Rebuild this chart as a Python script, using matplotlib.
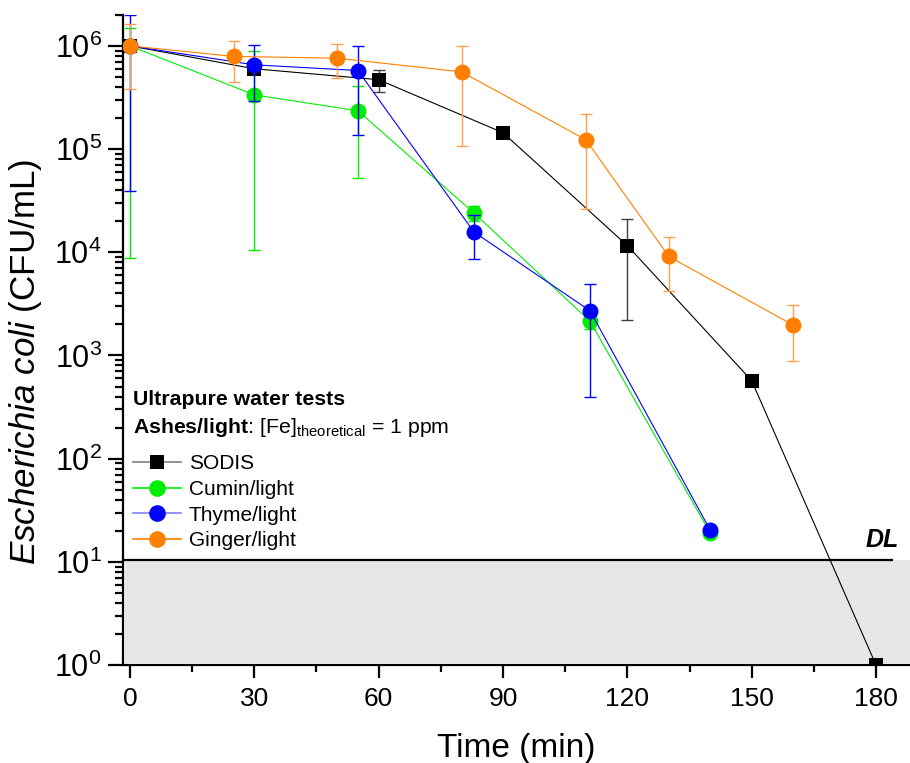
import numpy as np
import matplotlib
matplotlib.use("Agg")
import matplotlib.pyplot as plt
from matplotlib.lines import Line2D
from matplotlib.ticker import MultipleLocator

plt.rcParams['font.family'] = ['Liberation Sans', 'DejaVu Sans']
plt.rcParams['mathtext.fontset'] = 'custom'
plt.rcParams['mathtext.rm'] = 'Liberation Sans'
plt.rcParams['mathtext.it'] = 'Liberation Sans:italic'
plt.rcParams['mathtext.bf'] = 'Liberation Sans:bold'

# data (CFU/mL), error bars as lower/upper values
time_sodis = [0, 30, 60, 90, 120, 150, 180]
cfu_sodis = [1.0e6, 6.0e5, 4.7e5, 1.44e5, 1.16e4, 570, 1.0]
lo_sodis = [1.0e6, 5.5e5, 3.6e5, 1.44e5, 2.2e3, 570, 1.0]
hi_sodis = [1.0e6, 6.5e5, 5.85e5, 1.44e5, 2.1e4, 570, 1.0]

time_cumin = [0, 30, 55, 83, 111, 140]
cfu_cumin = [1.0e6, 3.35e5, 2.35e5, 2.4e4, 2.15e3, 19]
lo_cumin = [8.8e3, 1.05e4, 5.3e4, 2.0e4, 1.8e3, 19]
hi_cumin = [1.5e6, 9.0e5, 4.1e5, 2.8e4, 2.6e3, 19]

time_thyme = [0, 30, 55, 83, 111, 140]
cfu_thyme = [1.0e6, 6.55e5, 5.77e5, 1.57e4, 2.71e3, 20.3]
lo_thyme = [3.9e4, 2.93e5, 1.37e5, 8.6e3, 400, 20.3]
hi_thyme = [1.98e6, 1.02e6, 1.0e6, 2.3e4, 4.96e3, 20.3]

time_ginger = [0, 25, 50, 80, 110, 130, 160]
cfu_ginger = [1.0e6, 7.9e5, 7.6e5, 5.6e5, 1.23e5, 9.1e3, 1.97e3]
lo_ginger = [3.8e5, 4.45e5, 4.87e5, 1.06e5, 2.6e4, 4.2e3, 890]
hi_ginger = [1.62e6, 1.12e6, 1.04e6, 1.0e6, 2.19e5, 1.39e4, 3.07e3]

detection_limit = 10.4

fig = plt.figure(figsize=(9.1, 7.63), dpi=100)
ax = fig.add_axes([0.1348, 0.1284, 0.8652, 0.8522])

# shaded region below detection limit
ax.axhspan(1.04, detection_limit, xmin=0.003, xmax=1, color='#e6e6e6', lw=0, zorder=0)
ax.hlines(detection_limit, -1.76, 184.1, color='black', lw=1.6, zorder=1)
ax.text(181.5, 16.3, 'DL', fontsize=18, fontweight='bold', fontstyle='italic',
        ha='center', va='center')

series = [
    (time_sodis, cfu_sodis, lo_sodis, hi_sodis, 'black', '#404040', 's', 10),
    (time_cumin, cfu_cumin, lo_cumin, hi_cumin, '#00ee00', '#00ee00', 'o', 11.5),
    (time_thyme, cfu_thyme, lo_thyme, hi_thyme, '#0000ff', '#0000ff', 'o', 11.5),
    (time_ginger, cfu_ginger, lo_ginger, hi_ginger, '#ff8000', '#ffa050', 'o', 11.5),
]
for i, (t, y, lo, hi, c, ec, m, ms) in enumerate(series):
    y = np.array(y)
    yerr = [y - np.array(lo), np.array(hi) - y]
    ax.errorbar(t, y, yerr=yerr, fmt='none', ecolor=ec, elinewidth=1.0,
                capsize=4.5, capthick=1.0, zorder=2 + 2 * i)
    ax.plot(t, y, color=c, lw=0.8, marker=m, markersize=ms,
            markeredgewidth=0, zorder=3 + 2 * i)

ax.set_yscale('log')
ax.set_ylim(1, 2e6)
ax.set_xlim(-1.76, 188.2)
ax.xaxis.set_major_locator(MultipleLocator(30))
ax.xaxis.set_minor_locator(MultipleLocator(15))

for s in ['top', 'right']:
    ax.spines[s].set_visible(False)
for s in ['left', 'bottom']:
    ax.spines[s].set_linewidth(1.6)

ax.tick_params(axis='x', which='major', length=9, width=1.6, labelsize=19, pad=7)
ax.tick_params(axis='x', which='minor', length=5, width=1.6)
ax.tick_params(axis='y', which='major', length=11, width=1.6, labelsize=22, pad=4)
ax.tick_params(axis='y', which='minor', length=6, width=1.6)

ax.set_xlabel('Time (min)', fontsize=24, va='top')
ax.xaxis.set_label_coords(0.5, -0.104)
ax.set_ylabel(r'$\mathit{Escherichia\ coli}$ (CFU/mL)', fontsize=25.2)
ax.yaxis.set_label_coords(-0.100, 0.466)

# legend block
ax.text(0.0127, 0.409, 'Ultrapure water tests', transform=ax.transAxes,
        fontsize=15.3, fontweight='bold', va='center', ha='left')
ax.text(0.0127, 0.366, r'$\mathbf{Ashes/light}$: [Fe]$_{\mathregular{theoretical}}$ = 1 ppm',
        transform=ax.transAxes, fontsize=15.3, va='center', ha='left')

handles = [
    Line2D([], [], color='#808080', lw=1.2, marker='s', markersize=10,
           markerfacecolor='black', markeredgewidth=0),
    Line2D([], [], color='#00ee00', lw=1.2, marker='o', markersize=12,
           markeredgewidth=0),
    Line2D([], [], color='#8080ff', lw=1.2, marker='o', markersize=12,
           markerfacecolor='#0000ff', markeredgewidth=0),
    Line2D([], [], color='#ff8000', lw=1.2, marker='o', markersize=12,
           markeredgewidth=0),
]
labels = ['SODIS', 'Cumin/light', 'Thyme/light', 'Ginger/light']
ax.legend(handles, labels, loc='upper left', bbox_to_anchor=(0.0127, 0.324),
          frameon=False, fontsize=15, handlelength=2.3, handletextpad=0.4,
          labelspacing=0.32, borderpad=0, borderaxespad=0)

fig.savefig('out.png', dpi=100)
